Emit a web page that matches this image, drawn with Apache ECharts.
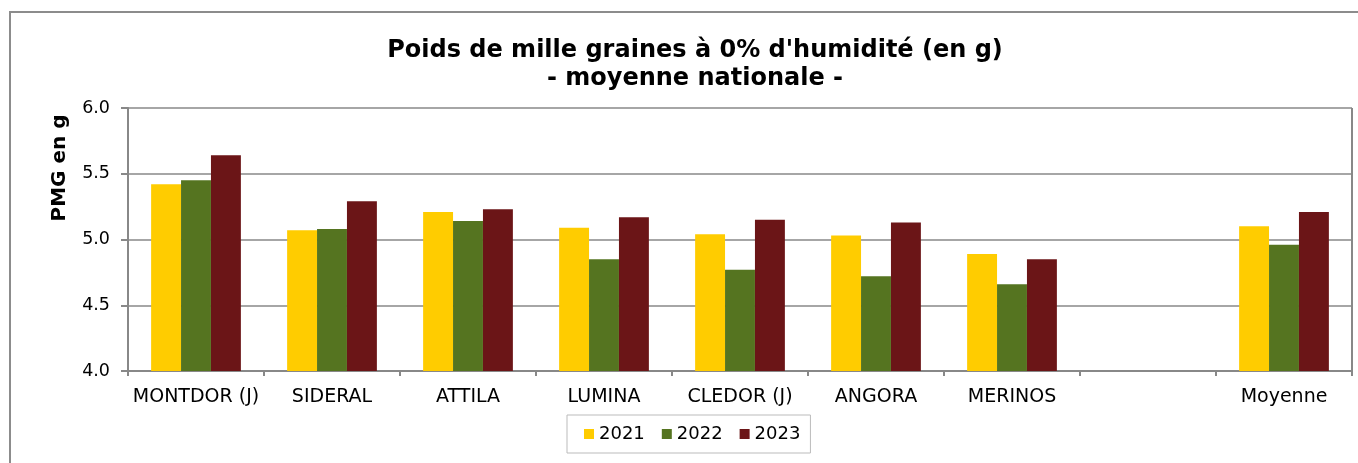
<!DOCTYPE html>
<html><head><meta charset="utf-8">
<script src="https://cdn.jsdelivr.net/npm/echarts@6/dist/echarts.min.js"></script>
<style>html,body{margin:0;padding:0;background:#fff}#c{width:1358px;height:463px}</style>
</head><body><div id="c"></div>
<script>
const categories = ['MONTDOR (J)', 'SIDERAL', 'ATTILA', 'LUMINA', 'CLEDOR (J)', 'ANGORA', 'MERINOS', '', 'Moyenne'];
const years = ['2021', '2022', '2023'];
const values2021 = [5.42, 5.07, 5.21, 5.09, 5.04, 5.03, 4.89, null, 5.10];
const values2022 = [5.45, 5.08, 5.14, 4.85, 4.77, 4.72, 4.66, null, 4.96];
const values2023 = [5.64, 5.29, 5.23, 5.17, 5.15, 5.13, 4.85, null, 5.21];
const yTicks = [4.0, 4.5, 5.0, 5.5, 6.0];
const yAxisTitle = 'PMG en g';
const chartTitle = 'Poids de mille graines à 0% d\'humidité (en g)\n- moyenne nationale -';
const colors = ['#FFCC00', '#557420', '#6B1517'];
const FONT = 'DejaVu Sans';

const chart = echarts.init(document.getElementById('c'));
const seriesData = [values2021, values2022, values2023];
chart.setOption({
  animation: false,
  textStyle: { fontFamily: FONT },
  title: {
    text: chartTitle,
    left: 690, top: 32, textAlign: 'center',
    textStyle: { fontFamily: FONT, fontWeight: 'bold', fontSize: 24, color: '#000', lineHeight: 28 }
  },
  graphic: [{
    type: 'rect', shape: { x: 10, y: 12, width: 1400, height: 500 },
    style: { fill: 'none', stroke: '#8c8c8c', lineWidth: 2 }, silent: true, z: -1
  }, {
    type: 'line', shape: { x1: 1352, y1: 108, x2: 1352, y2: 371 },
    style: { stroke: '#888', lineWidth: 2 }, silent: true
  }, {
    type: 'text', x: 60, y: 168, rotation: Math.PI / 2,
    style: { text: yAxisTitle, fontFamily: FONT, fontWeight: 'bold', fontSize: 20, fill: '#000',
      align: 'center', verticalAlign: 'middle' }, silent: true
  }],
  legend: {
    data: years, top: 415, left: 567,
    itemWidth: 10, itemHeight: 10, itemGap: 17, icon: 'rect',
    padding: [10, 10, 10, 17],
    borderColor: '#bbb', borderWidth: 1,
    textStyle: { fontFamily: FONT, fontSize: 18, color: '#000' }
  },
  grid: { left: 128, right: 6, top: 108, bottom: 92 },
  xAxis: {
    type: 'category', data: categories,
    axisLine: { lineStyle: { color: '#888', width: 2 } },
    axisTick: { show: true, length: 5, lineStyle: { color: '#888', width: 2 } },
    axisLabel: { fontFamily: FONT, fontSize: 19, color: '#000', margin: 17, interval: 0 }
  },
  yAxis: {
    type: 'value', min: 4.0, max: 6.0, interval: 0.5,
    axisLine: { show: true, lineStyle: { color: '#888', width: 2 } },
    axisTick: { show: true, inside: false, length: 7, lineStyle: { color: '#888', width: 2 } },
    axisLabel: { fontFamily: FONT, fontSize: 17.5, color: '#000', margin: 18,
      formatter: v => yTicks.includes(v) ? v.toFixed(1) : '' },
    splitLine: { lineStyle: { color: '#888', width: 1.5 } }
  },
  series: years.map((y, i) => ({
    name: y, type: 'bar', data: seriesData[i],
    barGap: '0%', barCategoryGap: '34%',
    itemStyle: { color: colors[i] }
  }))
});
</script></body></html>
